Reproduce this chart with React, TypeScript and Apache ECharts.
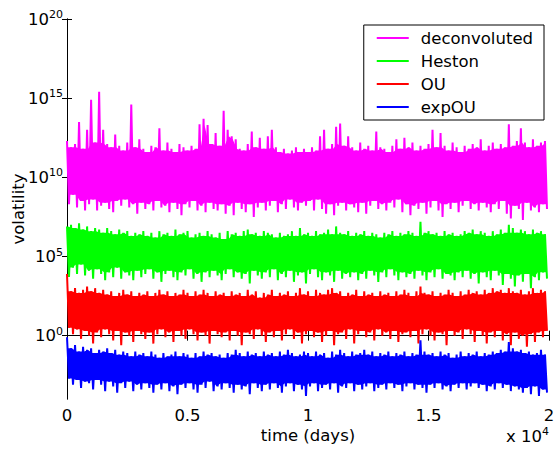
import React, { useEffect, useRef } from "react";
import * as echarts from "echarts";

// Values are log10(volatility); each series is read as alternating local maxima (hi) and minima (lo)
const seriesNames = ["deconvoluted", "Heston", "OU", "expOU"];
const seriesColors = ["#ff00ff", "#00ff00", "#ff0000", "#0000ff"];
const yTickExponents = [0, 5, 10, 15, 20];
const xTickValues = [0, 5000, 10000, 15000, 20000];

const decoHi = [
  12.3, 11.9, 12.1, 13.5, 11.8, 13.0, 14.9, 12.2, 15.4, 13.0,
  12.1, 11.9, 12.7, 12.0, 11.7, 12.2, 14.6, 11.9, 12.4, 11.8,
  11.6, 12.0, 11.9, 13.1, 11.7, 12.2, 11.8, 11.6, 12.1, 11.9,
  11.7, 12.0, 11.8, 13.35, 13.7, 13.3, 12.1, 12.8, 12.0, 14.2,
  13.0, 12.6, 12.4, 11.8, 11.7, 12.1, 12.9, 11.9, 12.5, 11.8,
  12.6, 13.0, 11.9, 11.6, 11.8, 11.5, 11.7, 11.9, 11.6, 11.8,
  11.6, 11.9, 11.7, 12.6, 13.0, 11.8, 12.1, 13.2, 13.4, 12.0,
  12.6, 11.9, 11.7, 12.2, 11.8, 12.0, 11.7, 12.9, 11.9, 11.8,
  11.6, 12.0, 12.4, 11.8, 12.5, 11.9, 12.2, 11.7, 12.0, 11.8,
  12.1, 13.0, 11.9, 12.8, 12.0, 11.7, 12.2, 11.9, 11.6, 12.0,
  11.8, 12.1, 11.9, 12.4, 11.7, 12.0, 12.2, 11.8, 12.1, 11.9,
  13.35, 12.0, 12.3, 13.1, 12.2, 11.9, 12.4, 12.0, 12.2, 12.3,
];
const decoLo = [
  8.3, 8.9, 8.1, 8.5, 7.9, 8.3, 8.6, 7.9, 8.2, 8.4,
  8.0, 7.8, 8.5, 8.2, 8.6, 8.1, 8.3, 7.7, 8.4, 8.0,
  8.3, 7.9, 8.5, 8.1, 8.2, 7.8, 8.4, 8.0, 7.6, 8.3,
  8.1, 8.5, 7.9, 8.2, 7.8, 8.4, 8.0, 7.9, 8.3, 7.7,
  8.2, 7.6, 8.4, 8.0, 7.8, 8.3, 7.5, 8.1, 8.4, 7.9,
  8.2, 8.5, 7.8, 8.3, 8.0, 8.6, 8.1, 7.9, 8.4, 8.2,
  8.5, 7.9, 8.6, 8.0, 7.7, 8.3, 7.6, 8.2, 8.4, 7.9,
  8.3, 8.1, 7.8, 8.4, 7.7, 8.2, 8.5, 8.0, 8.3, 7.9,
  8.4, 8.1, 8.6, 7.8, 8.3, 7.6, 8.2, 8.0, 8.4, 7.7,
  8.1, 8.5, 7.9, 7.5, 8.3, 8.0, 8.4, 7.8, 8.2, 8.5,
  8.0, 8.3, 7.9, 8.4, 8.1, 7.8, 8.3, 8.0, 8.5, 7.7,
  7.4, 8.2, 8.0, 7.3, 8.4, 7.9, 8.1, 7.8, 8.3, 8.0,
];
const hestonHi = [
  6.9, 7.0, 6.8, 7.1, 6.7, 6.9, 6.6, 6.8, 6.7, 6.5,
  6.8, 6.6, 6.4, 6.7, 6.5, 6.6, 6.3, 6.5, 6.4, 6.6,
  6.3, 6.5, 6.2, 6.6, 6.4, 6.5, 6.3, 6.7, 6.4, 6.5,
  6.6, 6.2, 6.4, 6.5, 6.3, 6.6, 6.4, 6.2, 6.5, 6.1,
  6.6, 6.4, 6.5, 6.3, 6.6, 6.7, 6.4, 6.5, 6.3, 6.6,
  6.5, 6.4, 6.2, 6.5, 6.3, 6.4, 6.6, 6.3, 6.8, 6.4,
  6.5, 6.3, 6.6, 6.4, 6.5, 6.7, 6.4, 6.9, 6.5, 6.4,
  6.6, 6.3, 6.5, 6.4, 6.6, 6.3, 6.5, 6.4, 6.2, 6.5,
  6.4, 6.6, 6.3, 6.5, 6.4, 6.6, 6.5, 6.3, 7.2, 6.5,
  6.6, 6.4, 6.5, 6.3, 6.6, 6.4, 6.5, 6.3, 6.4, 6.6,
  6.5, 6.7, 6.4, 6.6, 6.5, 6.3, 6.6, 6.4, 6.7, 6.5,
  7.0, 6.8, 6.5, 6.7, 6.6, 6.4, 6.7, 6.5, 6.6, 6.4,
];
const hestonLo = [
  3.7, 4.3, 3.9, 4.5, 3.8, 4.1, 3.6, 4.2, 3.9, 3.5,
  4.0, 3.7, 4.3, 3.6, 4.0, 3.8, 3.5, 4.1, 3.7, 3.9,
  4.2, 3.6, 4.0, 3.4, 3.9, 4.1, 3.7, 3.5, 4.0, 3.8,
  4.2, 3.6, 3.9, 3.4, 4.0, 3.7, 4.1, 3.8, 3.5, 3.9,
  4.2, 3.7, 4.0, 3.6, 3.9, 3.3, 4.1, 3.8, 3.6, 4.0,
  3.7, 4.2, 3.5, 3.9, 3.7, 4.1, 3.4, 3.8, 4.0, 3.3,
  3.9, 4.2, 3.7, 3.5, 4.0, 3.8, 3.4, 4.1, 3.6, 3.9,
  3.7, 4.0, 3.5, 3.9, 3.6, 4.1, 3.8, 3.4, 4.0, 3.7,
  4.2, 3.8, 3.5, 4.0, 3.7, 3.9, 3.6, 4.1, 3.8, 3.5,
  4.0, 3.7, 4.2, 3.6, 3.9, 3.8, 3.5, 4.0, 3.7, 4.1,
  3.6, 3.9, 3.3, 4.0, 3.7, 3.5, 4.1, 3.8, 3.2, 3.9,
  3.6, 3.1, 3.8, 3.4, 3.9, 3.0, 3.7, 3.5, 4.0, 3.6,
];
const ouHi = [
  3.9, 2.8, 3.0, 2.7, 2.9, 3.1, 2.8, 3.0, 2.7, 2.9,
  2.6, 2.8, 2.5, 2.7, 2.9, 2.6, 2.8, 2.5, 2.7, 2.6,
  2.8, 2.5, 2.7, 2.9, 2.6, 2.8, 2.5, 2.7, 2.6, 2.9,
  2.7, 2.5, 2.8, 2.6, 2.9, 2.7, 2.5, 2.8, 2.6, 2.7,
  2.5, 2.8, 2.6, 2.7, 2.5, 2.9, 2.6, 2.8, 2.4, 2.7,
  2.6, 2.9, 2.5, 2.7, 2.6, 2.8, 2.5, 2.7, 3.0, 2.6,
  2.8, 2.5, 2.9, 2.7, 2.6, 2.9, 3.0, 2.7, 2.8, 2.5,
  2.7, 2.6, 2.9, 2.5, 2.8, 2.6, 2.7, 2.5, 2.8, 2.6,
  2.7, 2.5, 2.8, 2.6, 2.9, 2.7, 2.5, 2.8, 3.1, 2.7,
  2.6, 2.8, 2.5, 2.7, 2.6, 2.9, 2.7, 2.5, 2.8, 2.6,
  2.9, 2.7, 2.8, 2.6, 2.9, 2.7, 3.0, 2.8, 2.9, 2.7,
  3.0, 2.8, 2.7, 2.9, 2.6, 2.8, 3.0, 2.7, 2.9, 2.8,
];
const ouLo = [
  0.5, 0.1, 0.4, -0.2, 0.3, 0.0, -0.5, 0.2, -0.1, 0.4,
  0.1, -0.3, 0.3, -0.6, 0.2, 0.0, -0.4, 0.3, 0.1, -0.2,
  0.2, -0.5, 0.1, 0.4, -0.1, 0.2, -0.4, 0.3, 0.0, -0.2,
  0.4, 0.1, -0.3, 0.2, 0.0, -0.5, 0.3, 0.1, -0.1, 0.2,
  -0.3, 0.3, 0.0, -0.6, 0.2, 0.1, -0.2, 0.4, 0.0, -0.4,
  0.2, -0.1, 0.3, -0.3, 0.1, 0.4, -0.2, 0.2, -0.5, 0.1,
  0.3, -0.1, 0.2, -0.4, 0.0, 0.3, -0.6, 0.1, 0.2, -0.2,
  0.4, -0.5, 0.1, 0.3, -0.1, 0.2, -0.3, 0.4, 0.0, 0.2,
  -0.2, 0.3, -0.4, 0.1, 0.2, -0.1, 0.3, -0.5, 0.1, 0.4,
  0.0, -0.3, 0.2, 0.1, -0.6, 0.3, 0.0, 0.2, -0.2, 0.4,
  0.1, -0.4, 0.3, 0.0, -0.5, 0.2, -0.1, 0.3, -0.3, 0.1,
  -0.6, 0.2, -0.2, 0.0, -0.7, 0.1, -0.4, 0.2, -0.1, 0.3,
];
const expOuHi = [
  -0.1, -0.8, -0.6, -1.0, -0.7, -0.9, -0.8, -1.1, -0.9, -1.0,
  -0.8, -1.1, -0.9, -1.2, -1.0, -1.1, -1.3, -1.0, -1.2, -1.1,
  -1.3, -1.0, -1.2, -1.4, -1.1, -1.3, -1.2, -1.0, -1.3, -1.1,
  -1.2, -1.4, -1.1, -1.3, -1.0, -1.2, -1.1, -1.3, -1.2, -1.4,
  -1.1, -1.2, -0.9, -1.1, -1.3, -1.0, -1.2, -1.1, -1.3, -1.0,
  -1.2, -1.1, -1.3, -1.0, -1.2, -0.9, -1.1, -1.3, -1.2, -1.0,
  -1.1, -1.3, -1.0, -1.2, -1.1, -1.4, -1.0, -1.2, -0.9, -1.1,
  -1.3, -1.0, -1.2, -1.1, -0.9, -1.2, -1.0, -1.3, -1.1, -1.2,
  -1.0, -1.3, -1.1, -1.2, -1.0, -1.3, -1.1, -1.2, -0.3, -1.0,
  -1.2, -1.1, -1.3, -1.0, -1.2, -1.1, -1.4, -1.2, -1.0, -1.3,
  -1.1, -1.2, -1.0, -1.3, -1.1, -1.2, -1.0, -1.1, -0.9, -1.0,
  -0.4, -0.8, -1.0, -0.9, -1.1, -1.0, -1.2, -1.1, -0.9, -1.2,
];
const expOuLo = [
  -2.7, -3.1, -2.8, -3.3, -2.9, -3.0, -3.4, -2.8, -3.1, -3.5,
  -2.9, -3.2, -3.6, -3.0, -3.3, -2.9, -3.5, -3.1, -3.4, -3.0,
  -3.3, -3.6, -3.1, -3.4, -3.0, -3.5, -3.2, -3.7, -3.1, -3.3,
  -3.0, -3.4, -3.6, -3.1, -3.3, -2.9, -3.5, -3.2, -3.4, -3.0,
  -3.3, -3.6, -3.1, -3.4, -3.2, -3.7, -3.0, -3.3, -3.5, -3.1,
  -3.4, -3.0, -3.3, -3.6, -3.2, -3.0, -3.5, -3.1, -3.4, -3.8,
  -3.2, -3.0, -3.5, -3.3, -3.1, -3.4, -3.0, -3.6, -3.2, -3.3,
  -3.0, -3.5, -3.1, -3.4, -3.2, -3.0, -3.5, -3.3, -3.1, -3.4,
  -3.0, -3.3, -3.1, -3.5, -3.2, -3.0, -3.4, -3.1, -3.3, -3.6,
  -3.1, -3.3, -3.0, -3.4, -3.2, -3.5, -3.1, -3.3, -3.0, -3.4,
  -3.2, -3.0, -3.3, -3.1, -3.5, -3.2, -3.4, -3.0, -3.3, -3.1,
  -3.5, -3.2, -3.4, -3.6, -3.3, -3.7, -3.2, -3.8, -3.4, -3.6,
];

const T_MAX = 20000;
const FONT = "DejaVu Sans";
const FS = 16.5;

function zigzag(hi: number[], lo: number[]): number[][] {
  const n = hi.length;
  const step = T_MAX / n;
  const pts: number[][] = [];
  for (let i = 0; i < n; i++) {
    pts.push([i * step, hi[i]]);
    pts.push([(i + 0.5) * step, lo[i]]);
  }
  return pts;
}

// Inner (solid) part of each noisy band: polygon through the narrower neighbouring extremes
function innerBand(hi: number[], lo: number[]): number[][] {
  const n = hi.length;
  const step = T_MAX / n;
  const top: number[][] = [];
  const bottom: number[][] = [];
  for (let i = 0; i < n; i++) {
    const a = Math.max(0, i - 1);
    const b = Math.min(n - 1, i + 1);
    const x = (i + 0.25) * step;
    top.push([x, Math.min(hi[a], hi[i], hi[b])]);
    bottom.push([x, Math.max(lo[a], lo[i], lo[b])]);
  }
  return top.concat(bottom.reverse());
}

const allHi = [decoHi, hestonHi, ouHi, expOuHi];
const allLo = [decoLo, hestonLo, ouLo, expOuLo];

export default function App() {
  const ref = useRef<HTMLDivElement>(null);
  useEffect(() => {
    if (!ref.current) return;
    const chart = echarts.init(ref.current, null, { renderer: "svg" });
    const axisLine = { show: true, lineStyle: { color: "#000", width: 1 } };
    const tick = { show: true, inside: true, length: 5, lineStyle: { color: "#000", width: 1 } };
    const supRich = {
      b: { fontFamily: FONT, fontSize: FS, color: "#000", lineHeight: 20 },
      s: { fontFamily: FONT, fontSize: 11, color: "#000", lineHeight: 11, verticalAlign: "top" },
    };

    const series: any[] = [];
    seriesNames.forEach((name, k) => {
      const poly = innerBand(allHi[k], allLo[k]);
      series.push({
        name: name + " body",
        type: "custom",
        silent: true,
        clip: true,
        data: [0],
        renderItem: (_p: any, api: any) => ({
          type: "polygon",
          shape: { points: poly.map((pt) => api.coord(pt)) },
          style: { fill: seriesColors[k] },
        }),
        z: 2 + k,
      });
      series.push({
        name,
        type: "line",
        symbol: "none",
        color: seriesColors[k],
        lineStyle: { color: seriesColors[k], width: 2 },
        data: zigzag(allHi[k], allLo[k]),
        z: 2 + k,
      });
    });

    chart.setOption({
      animation: false,
      backgroundColor: "#fff",
      grid: { left: 67, top: 19, right: 5, bottom: 54, containLabel: false, outerBoundsMode: "none" },
      legend: {
        orient: "vertical",
        right: 10,
        top: 25,
        data: seriesNames,
        icon: "rect",
        backgroundColor: "#fff",
        borderColor: "#000",
        borderWidth: 1,
        borderRadius: 0,
        padding: [4.5, 11, 4.5, 13],
        itemWidth: 32,
        itemHeight: 2,
        itemGap: 6,
        textStyle: { fontFamily: FONT, fontSize: FS, color: "#000", padding: [0, 0, 0, 7] },
        z: 10,
      },
      xAxis: [
        {
          type: "value",
          min: 0,
          max: T_MAX,
          interval: 5000,
          position: "bottom",
          axisLine,
          axisTick: { ...tick, customValues: xTickValues },
          splitLine: { show: false },
          axisLabel: {
            customValues: xTickValues,
            margin: 8,
            fontFamily: FONT,
            fontSize: FS,
            color: "#000",
            formatter: (v: number) => (v === 0 ? "0" : String(v / 10000)),
          },
          name: "time (days)",
          nameLocation: "middle",
          nameGap: 28,
          nameMoveOverlap: false,
          nameTextStyle: { fontFamily: FONT, fontSize: FS, color: "#000" },
        },
        {
          type: "value",
          min: 0,
          max: T_MAX,
          interval: 5000,
          position: "top",
          axisLine,
          axisTick: { ...tick, customValues: xTickValues },
          axisLabel: { show: false },
          splitLine: { show: false },
        },
      ],
      yAxis: [
        {
          type: "value",
          min: -4,
          max: 20,
          position: "left",
          axisLine,
          axisTick: { ...tick, customValues: yTickExponents },
          splitLine: { show: false },
          axisLabel: {
            customValues: yTickExponents,
            margin: 4,
            formatter: (v: number) => `{b|10}{s|${v}}`,
            rich: supRich,
          },
          name: "volatility",
          nameLocation: "middle",
          nameGap: 40,
          nameMoveOverlap: false,
          nameTextStyle: { fontFamily: FONT, fontSize: FS, color: "#000" },
        },
        {
          type: "value",
          min: -4,
          max: 20,
          position: "right",
          axisLine,
          axisTick: { ...tick, customValues: yTickExponents },
          axisLabel: { show: false },
          splitLine: { show: false },
        },
      ],
      series,
      graphic: [
        {
          type: "text",
          right: 5,
          top: 426,
          style: {
            text: "{b|x 10}{s|4}",
            rich: supRich,
          },
        },
      ],
    });
    return () => chart.dispose();
  }, []);
  return (
    <div
      ref={ref}
      style={{ position: "fixed", left: 0, top: 0, width: 554, height: 453 }}
    />
  );
}
